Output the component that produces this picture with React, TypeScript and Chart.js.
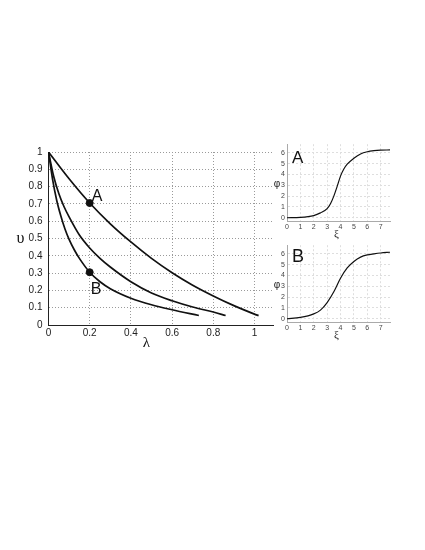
import React, { useEffect, useRef } from "react";
import { Chart, registerables } from "chart.js";

Chart.register(...registerables);

// ---- main chart data (λ, υ) ----
const curveTopLambda = [0, 0.1, 0.2, 0.3, 0.4, 0.5, 0.6, 0.7, 0.8, 0.9, 1.0, 1.02];
const curveTopUpsilon = [1, 0.845, 0.705, 0.585, 0.48, 0.385, 0.302, 0.23, 0.168, 0.112, 0.063, 0.054];

const curveMidLambda = [0, 0.025, 0.05, 0.075, 0.1, 0.15, 0.2, 0.25, 0.3, 0.4, 0.5, 0.6, 0.7, 0.8, 0.86];
const curveMidUpsilon = [1, 0.86, 0.76, 0.685, 0.625, 0.52, 0.445, 0.385, 0.335, 0.25, 0.185, 0.14, 0.104, 0.075, 0.055];

const curveLowLambda = [0, 0.02, 0.04, 0.06, 0.08, 0.1, 0.125, 0.15, 0.2, 0.25, 0.3, 0.4, 0.5, 0.6, 0.73];
const curveLowUpsilon = [1, 0.84, 0.72, 0.63, 0.555, 0.495, 0.435, 0.385, 0.305, 0.25, 0.21, 0.155, 0.117, 0.088, 0.055];

const markerLambda = [0.2, 0.2];
const markerUpsilon = [0.705, 0.305];
const markerNames = ["A", "B"];

const mainXTicks = [0, 0.2, 0.4, 0.6, 0.8, 1];
const mainYTicks = [0, 0.1, 0.2, 0.3, 0.4, 0.5, 0.6, 0.7, 0.8, 0.9, 1];

// ---- inset A data (ξ, φ) ----
const insetAXi = [0, 1, 2, 2.5, 3, 3.25, 3.5, 3.75, 4, 4.25, 4.5, 5, 5.5, 6, 6.5, 7, 7.7];
const insetAPhi = [0, 0.03, 0.2, 0.45, 0.85, 1.3, 2.0, 2.9, 3.85, 4.5, 4.95, 5.5, 5.9, 6.1, 6.2, 6.25, 6.27];

// ---- inset B data (ξ, φ) ----
const insetBXi = [0, 1, 2, 2.5, 3, 3.5, 4, 4.5, 5, 5.5, 6, 6.5, 7, 7.7];
const insetBPhi = [0, 0.12, 0.45, 0.8, 1.5, 2.5, 3.75, 4.7, 5.3, 5.7, 5.9, 6.0, 6.08, 6.15];

const insetXTicks = [0, 1, 2, 3, 4, 5, 6, 7];
const insetYTicks = [0, 1, 2, 3, 4, 5, 6];

const SANS = '"Liberation Sans", Arial, Helvetica, sans-serif';
const SERIF = '"Liberation Serif", "DejaVu Serif", serif';

const fmt = (v: number) => String(Number(v.toFixed(2)));

type TextItem = {
  text: string;
  font: string;
  color: string;
  align: CanvasTextAlign;
  baseline: CanvasTextBaseline;
  pos: (chart: any) => [number, number];
};

const makeTextPlugin = (items: TextItem[]) => ({
  id: "texts",
  afterDraw(chart: any) {
    const ctx = chart.ctx;
    ctx.save();
    for (const it of items) {
      const [x, y] = it.pos(chart);
      ctx.font = it.font;
      ctx.fillStyle = it.color;
      ctx.textAlign = it.align;
      ctx.textBaseline = it.baseline;
      ctx.fillText(it.text, x, y);
    }
    ctx.restore();
  },
});

const pts = (xs: number[], ys: number[]) => xs.map((x, i) => ({ x, y: ys[i] }));

function MainChart() {
  const ref = useRef<HTMLCanvasElement>(null);
  useEffect(() => {
    const lineDs = (xs: number[], ys: number[]) => ({
      type: "line" as const,
      data: pts(xs, ys),
      borderColor: "#111",
      borderWidth: 1.7,
      pointRadius: 0,
      fill: false,
      cubicInterpolationMode: "monotone" as const,
    });
    const texts: TextItem[] = [
      {
        text: markerNames[0],
        font: `16px ${SANS}`,
        color: "#111",
        align: "left",
        baseline: "alphabetic",
        pos: (c) => [c.scales.x.getPixelForValue(markerLambda[0]) + 2, c.scales.y.getPixelForValue(markerUpsilon[0]) - 2],
      },
      {
        text: markerNames[1],
        font: `16px ${SANS}`,
        color: "#111",
        align: "left",
        baseline: "alphabetic",
        pos: (c) => [c.scales.x.getPixelForValue(markerLambda[1]) + 1, c.scales.y.getPixelForValue(markerUpsilon[1]) + 22],
      },
      {
        text: "υ",
        font: `16px ${SERIF}`,
        color: "#111",
        align: "center",
        baseline: "middle",
        pos: (c) => [c.chartArea.left - 28, c.scales.y.getPixelForValue(0.5)],
      },
      {
        text: "λ",
        font: `15px ${SERIF}`,
        color: "#111",
        align: "center",
        baseline: "middle",
        pos: (c) => [c.scales.x.getPixelForValue(0.475), c.chartArea.bottom + 18],
      },
    ];
    const chart = new Chart(ref.current!, {
      type: "line",
      data: {
        datasets: [
          lineDs(curveTopLambda, curveTopUpsilon),
          lineDs(curveMidLambda, curveMidUpsilon),
          lineDs(curveLowLambda, curveLowUpsilon),
          {
            type: "scatter" as const,
            data: pts(markerLambda, markerUpsilon),
            backgroundColor: "#111",
            borderColor: "#111",
            pointRadius: 3.5,
            showLine: false,
          } as any,
        ],
      },
      options: {
        animation: false,
        responsive: false,
        devicePixelRatio: 1,
        layout: { padding: { top: 6, right: 12, left: 0, bottom: 0 } },
        plugins: { legend: { display: false }, tooltip: { enabled: false } },
        scales: {
          x: {
            type: "linear",
            min: 0,
            max: 1.09,
            afterFit: (s: any) => {
              s.height = 37;
            },
            afterBuildTicks: (s: any) => {
              s.ticks = mainXTicks.map((v) => ({ value: v }));
            },
            ticks: {
              font: { family: SANS, size: 10 },
              color: "#222",
              padding: 2,
              maxRotation: 0,
              callback: (v: any) => fmt(Number(v)),
            },
            grid: { color: "#9a9a9a", lineWidth: 1, drawTicks: false },
            border: { display: true, color: "#222", width: 1, dash: [1, 2] },
          },
          y: {
            type: "linear",
            min: 0,
            max: 1,
            afterFit: (s: any) => {
              s.width = 48.5;
            },
            afterBuildTicks: (s: any) => {
              s.ticks = mainYTicks.map((v) => ({ value: v }));
            },
            ticks: {
              font: { family: SANS, size: 10 },
              color: "#222",
              padding: 6,
              callback: (v: any) => fmt(Number(v)),
            },
            grid: { color: "#9a9a9a", lineWidth: 1, drawTicks: false },
            border: { display: true, color: "#222", width: 1, dash: [1, 2] },
          },
        },
      },
      plugins: [makeTextPlugin(texts)],
    } as any);
    return () => chart.destroy();
  }, []);
  return (
    <canvas
      ref={ref}
      width={285}
      height={222}
      style={{ position: "absolute", left: 0, top: 140, width: 285, height: 222 }}
    />
  );
}

function Inset({ xs, ys, name, top, nameFont, nameBaseline }: { xs: number[]; ys: number[]; name: string; top: number; nameFont: number; nameBaseline: number }) {
  const ref = useRef<HTMLCanvasElement>(null);
  useEffect(() => {
    const texts: TextItem[] = [
      {
        text: name,
        font: `${nameFont}px ${SANS}`,
        color: "#111",
        align: "left",
        baseline: "alphabetic",
        pos: (c) => [c.chartArea.left + 5, c.chartArea.top + nameBaseline],
      },
      {
        text: "φ",
        font: `10px ${SANS}`,
        color: "#222",
        align: "center",
        baseline: "middle",
        pos: (c) => [c.chartArea.left - 10, c.scales.y.getPixelForValue(3.1)],
      },
      {
        text: "ξ",
        font: `11px ${SERIF}`,
        color: "#222",
        align: "center",
        baseline: "middle",
        pos: (c) => [c.scales.x.getPixelForValue(3.7), c.chartArea.bottom + 13],
      },
    ];
    const chart = new Chart(ref.current!, {
      type: "line",
      data: {
        datasets: [
          {
            data: pts(xs, ys),
            borderColor: "#111",
            borderWidth: 1.2,
            pointRadius: 0,
            fill: false,
            cubicInterpolationMode: "monotone",
          },
        ],
      },
      options: {
        animation: false,
        responsive: false,
        devicePixelRatio: 1,
        layout: { padding: { top: 5, right: 10, left: 0, bottom: 0 } },
        plugins: { legend: { display: false }, tooltip: { enabled: false } },
        scales: {
          x: {
            type: "linear",
            min: 0,
            max: 7.7,
            afterFit: (s: any) => {
              s.height = 23;
            },
            afterBuildTicks: (s: any) => {
              s.ticks = insetXTicks.map((v) => ({ value: v }));
            },
            ticks: {
              font: { family: SANS, size: 7 },
              color: "#444",
              padding: 2,
              maxRotation: 0,
              callback: (v: any) => fmt(Number(v)),
            },
            grid: { color: "#dedede", lineWidth: 1, drawTicks: false },
            border: { display: true, color: "#aaa", width: 1, dash: [2, 2] },
          },
          y: {
            type: "linear",
            min: -0.3,
            max: 6.8,
            afterFit: (s: any) => {
              s.width = 25;
            },
            afterBuildTicks: (s: any) => {
              s.ticks = insetYTicks.map((v) => ({ value: v }));
            },
            ticks: {
              font: { family: SANS, size: 7 },
              color: "#444",
              padding: 2,
              callback: (v: any) => fmt(Number(v)),
            },
            grid: { color: "#dedede", lineWidth: 1, drawTicks: false },
            border: { display: true, color: "#aaa", width: 1, dash: [2, 2] },
          },
        },
      },
      plugins: [makeTextPlugin(texts)],
    } as any);
    return () => chart.destroy();
  }, []);
  return (
    <canvas
      ref={ref}
      width={138}
      height={106}
      style={{ position: "absolute", left: 262, top, width: 138, height: 106 }}
    />
  );
}

export default function App() {
  return (
    <div style={{ position: "absolute", left: 0, top: 0, width: 425, height: 550, background: "#fff" }}>
      <MainChart />
      <Inset xs={insetAXi} ys={insetAPhi} name="A" top={138} nameFont={17} nameBaseline={18.5} />
      <Inset xs={insetBXi} ys={insetBPhi} name="B" top={239} nameFont={18} nameBaseline={17} />
    </div>
  );
}
